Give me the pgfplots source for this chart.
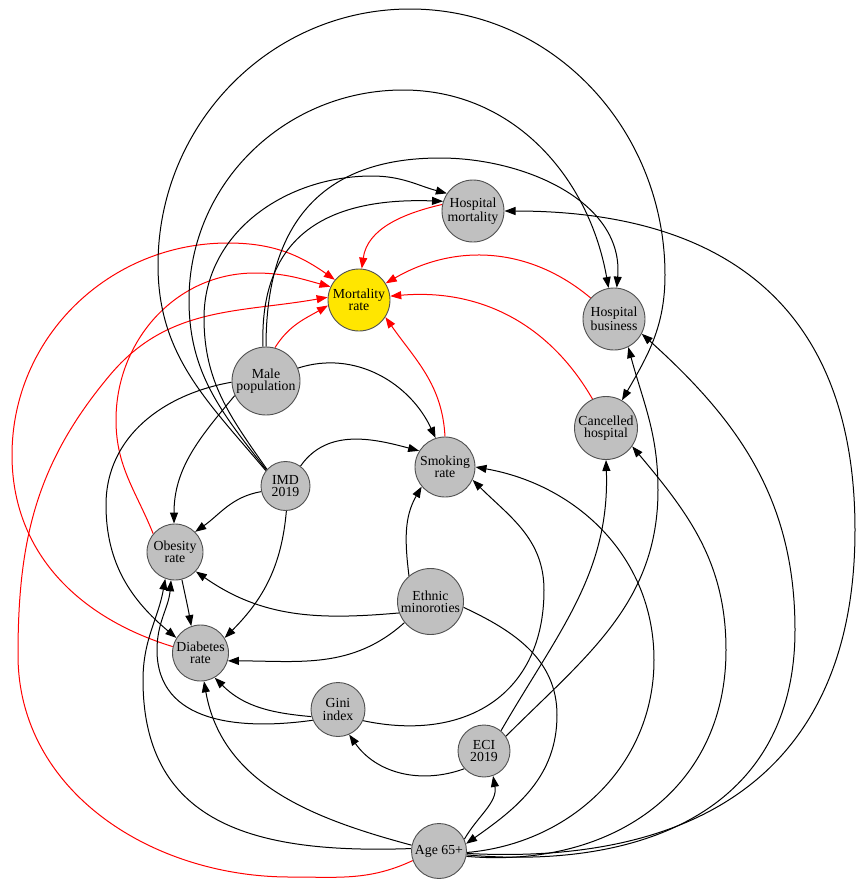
\documentclass[border=0pt]{standalone}
\usepackage{pgfplots}
\pgfplotsset{compat=1.18}
\usepackage{fontspec}
\setmainfont{Liberation Serif}
\usetikzlibrary{arrows.meta}
\definecolor{ngray}{RGB}{192,192,192}
\definecolor{nborder}{RGB}{80,80,80}
\definecolor{nyellow}{RGB}{255,230,0}
\newcommand{\lbl}{\fontsize{13.8}{12.3}\selectfont}
\begin{document}
\begin{tikzpicture}[
  edge/.style={line width=1pt,-{Triangle[length=11pt,width=8pt]}},
  redge/.style={edge,red},
  anc/.style={circle,inner sep=0pt,outer sep=0.5pt,minimum size=#1},
  lab/.style={font=\lbl,align=center,text=black}]
\begin{axis}[width=858pt,height=879pt,scale only axis,
  xmin=0,xmax=858,ymin=0,ymax=879,y dir=reverse,hide axis,clip=false]
% node circles
\addplot[only marks,mark=*,mark size=31pt,mark options={fill=ngray,draw=nborder,line width=0.9pt}] coordinates {(473,211)};
\addplot[only marks,mark=*,mark size=31pt,mark options={fill=nyellow,draw=nborder,line width=0.9pt}] coordinates {(359,300)};
\addplot[only marks,mark=*,mark size=31pt,mark options={fill=ngray,draw=nborder,line width=0.9pt}] coordinates {(614,319)};
\addplot[only marks,mark=*,mark size=34pt,mark options={fill=ngray,draw=nborder,line width=0.9pt}] coordinates {(266,381)};
\addplot[only marks,mark=*,mark size=31.5pt,mark options={fill=ngray,draw=nborder,line width=0.9pt}] coordinates {(606,428)};
\addplot[only marks,mark=*,mark size=24.5pt,mark options={fill=ngray,draw=nborder,line width=0.9pt}] coordinates {(285.5,486)};
\addplot[only marks,mark=*,mark size=30pt,mark options={fill=ngray,draw=nborder,line width=0.9pt}] coordinates {(445,467)};
\addplot[only marks,mark=*,mark size=28pt,mark options={fill=ngray,draw=nborder,line width=0.9pt}] coordinates {(175,552)};
\addplot[only marks,mark=*,mark size=33pt,mark options={fill=ngray,draw=nborder,line width=0.9pt}] coordinates {(430.5,601.5)};
\addplot[only marks,mark=*,mark size=28pt,mark options={fill=ngray,draw=nborder,line width=0.9pt}] coordinates {(200.5,653)};
\addplot[only marks,mark=*,mark size=27pt,mark options={fill=ngray,draw=nborder,line width=0.9pt}] coordinates {(338,709.5)};
\addplot[only marks,mark=*,mark size=26pt,mark options={fill=ngray,draw=nborder,line width=0.9pt}] coordinates {(484,751)};
\addplot[only marks,mark=*,mark size=27.5pt,mark options={fill=ngray,draw=nborder,line width=0.9pt}] coordinates {(439,851)};
% anchors
\node[anc=62pt] (HM) at (axis cs:473,211) {};
\node[anc=62pt] (MR) at (axis cs:359,300) {};
\node[anc=62pt] (HB) at (axis cs:614,319) {};
\node[anc=68pt] (MP) at (axis cs:266,381) {};
\node[anc=63pt] (CH) at (axis cs:606,428) {};
\node[anc=49pt] (IMD) at (axis cs:285.5,486) {};
\node[anc=60pt] (SR) at (axis cs:445,467) {};
\node[anc=56pt] (OR) at (axis cs:175,552) {};
\node[anc=66pt] (ER) at (axis cs:430.5,601.5) {};
\node[anc=56pt] (DR) at (axis cs:200.5,653) {};
\node[anc=54pt] (GINI) at (axis cs:338,709.5) {};
\node[anc=52pt] (ECI) at (axis cs:484,751) {};
\node[anc=55pt] (AGE) at (axis cs:439,851) {};
% red edges
\draw[redge] (HM.168) to[out=193,in=82] (MR.85);
\draw[redge] (HB.138) to[out=140,in=30] (MR.32);
\draw[redge] (CH.115) to[out=120,in=5] (MR.7);
\draw[redge] (SR.90) to[out=93,in=-55] (MR.-33);
\draw[redge] (MP.75) to[out=58,in=210] (MR.190);
\draw[redge] (DR.167) to[out=163,in=-90] (axis cs:12,455) to[out=90,in=180] (axis cs:228,243) to[out=0,in=145] (MR.140);
\draw[redge] (OR.140) to[out=112,in=-90] (axis cs:116,420) to[out=90,in=180] (axis cs:255,273) to[out=0,in=165] (MR.155);
\draw[redge] (AGE.200) to[out=205,in=0] (axis cs:290,877) to[out=180,in=-90] (axis cs:18,655) to[out=90,in=230] (axis cs:110,375) to[out=50,in=190] (MR.175);
% black edges
\draw[edge] (IMD.142) to[out=130,in=-90] (axis cs:158,265) to[out=90,in=180] (axis cs:410,9) to[out=0,in=90] (axis cs:665,275) to[out=-90,in=60] (CH.60);
\draw[edge] (IMD.140) to[out=128,in=-90] (axis cs:189,300) to[out=90,in=180] (axis cs:403,90) to[out=0,in=100] (HB.100);
\draw[edge] (IMD.138) to[out=125,in=-90] (axis cs:204,318) to[out=90,in=180] (axis cs:372,176) to[out=0,in=165] (HM.146);
\draw[edge] (MP.90) to[out=90,in=180,looseness=1.2] (axis cs:440,158) to[out=0,in=85] (HB.85);
\draw[edge] (MP.95) to[out=92,in=178,looseness=1.25] (HM.162);
\draw[edge] (AGE.-5) to[out=-3,in=-90,looseness=1.2] (axis cs:855,530) to[out=90,in=0,looseness=1.2] (HM.0);
\draw[edge] (AGE.-8) to[out=-5,in=-90,looseness=1.15] (axis cs:795,630) to[out=90,in=-42] (HB.-28);
\draw[edge] (AGE.-11) to[out=-5,in=-90,looseness=1.1] (axis cs:726,650) to[out=90,in=-50] (CH.-35);
\draw[edge] (AGE.-3) to[out=5,in=-90] (axis cs:654,660) to[out=90,in=-10] (SR.0);
\draw[edge] (AGE.25) to[out=60,in=-80] (ECI.-70);
\draw[edge] (ER.-10) to[out=-25,in=90] (axis cs:557,715) to[out=-90,in=35] (AGE.15);
\draw[edge] (ECI.222) to[out=200,in=-55] (GINI.-66);
\draw[edge] (ECI.50) to[out=60,in=-88] (CH.-90);
\draw[edge] (ECI.34) to[out=45,in=-90] (axis cs:658,490) to[out=90,in=-75] (HB.-63);
\draw[edge] (GINI.-24) to[out=-12,in=-90,looseness=1.2] (axis cs:544,590) to[out=90,in=-45] (SR.-25);
\draw[edge] (ER.130) to[out=97,in=-120] (SR.220);
\draw[edge] (IMD.53) to[out=55,in=165] (SR.148);
\draw[edge] (MP.22) to[out=18,in=115] (SR.108);
\draw[edge] (MP.205) to[out=230,in=90] (OR.92);
\draw[edge] (MP.182) to[out=190,in=90] (axis cs:106,505) to[out=-90,in=140] (DR.148);
\draw[edge] (IMD.193) to[out=190,in=35] (OR.45);
\draw[edge] (IMD.-88) to[out=-95,in=45] (DR.32);
\draw[edge] (OR.-76) to[out=-78,in=100] (DR.109);
\draw[edge] (ER.200) to[out=185,in=-35] (OR.-43);
\draw[edge] (ER.219) to[out=222,in=0] (DR.-16);
\draw[edge] (GINI.195) to[out=175,in=-45] (DR.-60);
\draw[edge] (GINI.203) to[out=188,in=-90,looseness=1.1] (axis cs:157,650) to[out=90,in=-95] (OR.-98);
\draw[edge] (AGE.175) to[out=182,in=-90,looseness=1.2] (axis cs:143,680) to[out=90,in=-100] (OR.-110);
\draw[edge] (AGE.168) to[out=165,in=-80] (DR.-83);
\end{axis}
% labels (drawn above the node circles)
\node[lab] at (HM.center) {Hospital\\mortality};
\node[lab] at (MR.center) {Mortality\\rate};
\node[lab] at (HB.center) {Hospital\\business};
\node[lab] at (MP.center) {Male\\population};
\node[lab] at (CH.center) {Cancelled\\hospital};
\node[lab] at (IMD.center) {IMD\\2019};
\node[lab] at (SR.center) {Smoking\\rate};
\node[lab] at (OR.center) {Obesity\\rate};
\node[lab] at (ER.center) {Ethnic\\minoroties};
\node[lab] at (DR.center) {Diabetes\\rate};
\node[lab] at (GINI.center) {Gini\\index};
\node[lab] at (ECI.center) {ECI\\2019};
\node[lab] at (AGE.center) {Age 65+};
\pgfresetboundingbox
\path (current axis.south west) rectangle (current axis.north east);
\end{tikzpicture}
\end{document}
